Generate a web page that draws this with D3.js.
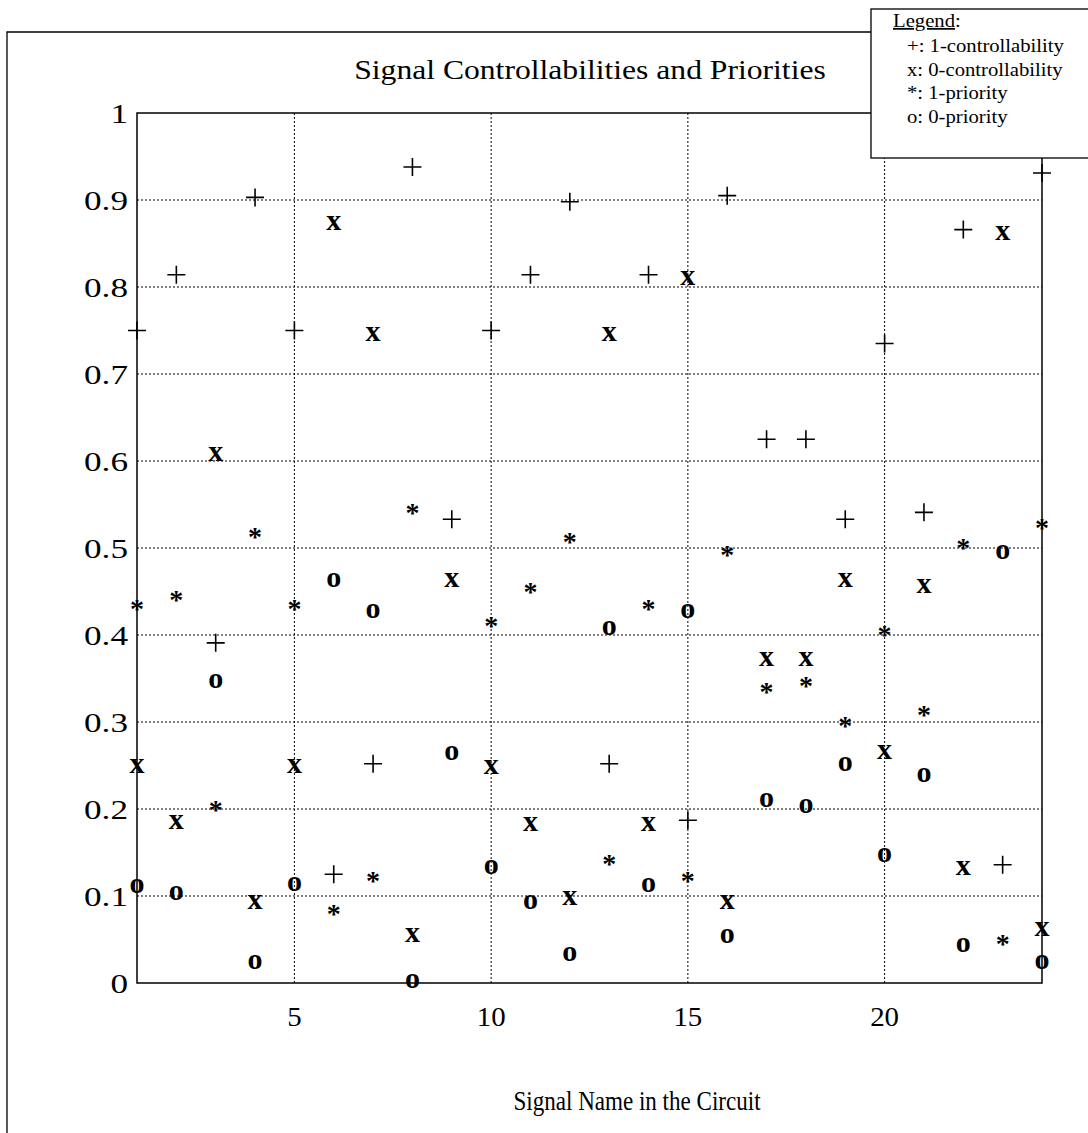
<!DOCTYPE html>
<html>
<head>
<meta charset="utf-8">
<script src="https://cdn.jsdelivr.net/npm/d3@7"></script>
<style>
  body { margin: 0; background: #fff; }
  svg { display: block; }
  text { font-family: "Liberation Serif", "Times New Roman", serif; fill: #000; }
</style>
</head>
<body>
<svg id="chart" width="1088" height="1133"></svg>
<script>
// signal index along the x axis
var signals = d3.range(1, 25);

// 1-controllability (+)
var ctrl1 = [0.75, 0.814, 0.391, 0.903, 0.75, 0.125, 0.252, 0.938, 0.533, 0.75, 0.814, 0.898,
             0.252, 0.814, 0.187, 0.905, 0.625, 0.625, 0.533, 0.735, 0.541, 0.866, 0.136, 0.931];
// 0-controllability (x)
var ctrl0 = [0.249, 0.184, 0.607, 0.093, 0.249, 0.873, 0.745, 0.055, 0.463, 0.248, 0.182, 0.097,
             0.745, 0.182, 0.81, 0.092, 0.372, 0.372, 0.463, 0.265, 0.456, 0.132, 0.861, 0.061];
// 1-priority (*)
var prio1 = [0.436, 0.446, 0.205, 0.519, 0.436, 0.086, 0.123, 0.546, null, 0.417, 0.456, 0.513,
             0.143, 0.436, 0.123, 0.498, 0.341, 0.348, 0.302, 0.406, 0.314, 0.506, 0.051, 0.529];
// 0-priority (o)
var prio0 = [0.111, 0.103, 0.347, 0.024, 0.113, 0.463, 0.427, 0.002, 0.264, 0.133, 0.092, 0.033,
             0.408, 0.112, 0.427, 0.053, 0.21, 0.203, 0.251, 0.146, 0.239, 0.043, 0.495, 0.024];

var yTicks = [0, 0.1, 0.2, 0.3, 0.4, 0.5, 0.6, 0.7, 0.8, 0.9, 1];
var xTicks = [5, 10, 15, 20];

var legendLines = ["+: 1-controllability", "x: 0-controllability", "*: 1-priority", "o: 0-priority"];

var svg = d3.select("#chart");

var x = d3.scaleLinear().domain([1, 24]).range([137, 1042]);
var y = d3.scaleLinear().domain([0, 1]).range([983, 113]);

// the scanned type is not quite Times proportions, so stretch text sideways
function label(g, px, py, size, anchor, str, sx) {
    return g.append("text")
        .attr("transform", `translate(${px},${py}) scale(${sx},1)`)
        .attr("text-anchor", anchor)
        .attr("font-size", size)
        .text(str);
}

// outer frame (left + top only, the rest falls off the page)
svg.append("path")
    .attr("d", "M7,1133 L7,32 L871,32")
    .attr("fill", "none")
    .attr("stroke", "#000")
    .attr("stroke-width", 1.3);

// grid
svg.append("g")
    .selectAll("line")
    .data(yTicks.filter(d => d > 0 && d < 1))
    .join("line")
    .attr("x1", x(1)).attr("x2", x(24))
    .attr("y1", d => y(d)).attr("y2", d => y(d))
    .attr("stroke", "#000")
    .attr("stroke-width", 1)
    .attr("stroke-dasharray", "2,2");

svg.append("g")
    .selectAll("line")
    .data(xTicks)
    .join("line")
    .attr("x1", d => x(d)).attr("x2", d => x(d))
    .attr("y1", y(0)).attr("y2", y(1))
    .attr("stroke", "#000")
    .attr("stroke-width", 1)
    .attr("stroke-dasharray", "2,2");

// axis box
svg.append("rect")
    .attr("x", x(1)).attr("y", y(1))
    .attr("width", x(24) - x(1)).attr("height", y(0) - y(1))
    .attr("fill", "none")
    .attr("stroke", "#000")
    .attr("stroke-width", 1.5);

// tick labels
var gy = svg.append("g");
yTicks.forEach(d => label(gy, 128, y(d) + 9.5, 27.5, "end", d3.format("~g")(d), 1.28));

var gx = svg.append("g");
xTicks.forEach(d => label(gx, x(d), 1026, 27.5, "middle", d, 1.05));

// titles
label(svg, 590, 79, 27.5, "middle", "Signal Controllabilities and Priorities", 1.15);
label(svg, 637, 1110, 26.5, "middle", "Signal Name in the Circuit", 0.87);

// markers
var pts = (vals) => signals.map((s, i) => ({s: s, v: vals[i]})).filter(d => d.v != null);

svg.append("g")
    .selectAll("path")
    .data(pts(ctrl1))
    .join("path")
    .attr("d", d => {
        var cx = x(d.s), cy = y(d.v);
        return `M${cx - 9},${cy} L${cx + 9},${cy} M${cx},${cy - 9} L${cx},${cy + 9}`;
    })
    .attr("stroke", "#000")
    .attr("stroke-width", 1.6);

function glyphs(vals, ch, size, dy) {
    svg.append("g")
        .selectAll("text")
        .data(pts(vals))
        .join("text")
        .attr("x", d => x(d.s))
        .attr("y", d => y(d.v) + dy)
        .attr("text-anchor", "middle")
        .attr("font-size", size)
        .attr("font-weight", "bold")
        .text(ch);
}
glyphs(ctrl0, "x", 30, 6.5);
glyphs(prio0, "o", 30, 6.5);
glyphs(prio1, "*", 28, 14.5);

// legend
var lg = svg.append("g");
lg.append("rect")
    .attr("x", 871).attr("y", 9)
    .attr("width", 260).attr("height", 149)
    .attr("fill", "#fff")
    .attr("stroke", "#000")
    .attr("stroke-width", 1.3);

var head = lg.append("text")
    .attr("transform", "translate(893,27) scale(1.15,1)")
    .attr("font-size", 18);
head.append("tspan").attr("text-decoration", "underline").text("Legend");
head.append("tspan").text(":");

legendLines.forEach((d, i) => label(lg, 907, 52 + i * 23.5, 18, "start", d, 1.15));
</script>
</body>
</html>
